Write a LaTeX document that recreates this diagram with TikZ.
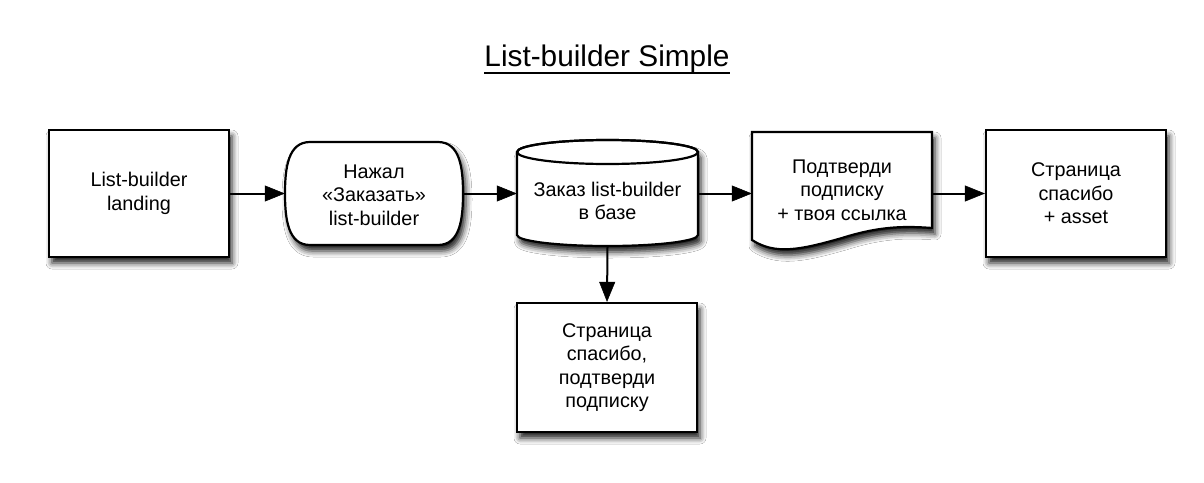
\documentclass[tikz,border=0pt]{standalone}
\usepackage{fontspec}
\setmainfont{Liberation Sans}
\usetikzlibrary{arrows.meta,shadows.blur}

\begin{document}
\begin{tikzpicture}[x=1pt,y=-1pt,
  softshadow/.style={blur shadow={shadow xshift=3pt, shadow yshift=-6pt,
      shadow blur radius=6pt, shadow opacity=90}},
  outline/.style={draw=black, line width=2.2pt, fill=white, softshadow},
  label/.style={align=center, inner sep=0pt, font=\fontsize{19.8}{23.5}\selectfont},
  box/.style={outline, label, minimum width=180pt, minimum height=127pt},
  frame/.style={inner sep=0pt, minimum width=#1},
  flow/.style={draw=black, line width=2pt,
      -{Triangle[length=20pt, width=16pt, fill=black, line width=0.5pt]}}
]
\useasboundingbox[fill=white] (0,0) rectangle (1204,482);

% heading
\node[inner sep=0pt, anchor=base, font=\fontsize{29.8}{34}\selectfont] (title) at (607,66) {List-builder Simple};
\draw[line width=2pt] ([yshift=-6.5pt]title.base west) -- ([yshift=-6.5pt]title.base east);

% landing page
\node[box] (landing) at (139,193.5) {List-builder\\landing};

% terminal: order button
\draw[outline] (310,142) -- (438,142)
  .. controls (460,142) and (463,168) .. (463,193.5)
  .. controls (463,219) and (460,245) .. (438,245) -- (310,245)
  .. controls (288,245) and (285,219) .. (285,193.5)
  .. controls (285,168) and (288,142) .. (310,142) -- cycle;
\node[frame=178pt, minimum height=103pt] (click) at (374,193.5) {};
\node[label] (clicktext) at ([yshift=-1.5pt]click.center) {Нажал\\«Заказать»\\list-builder};

% database cylinder
\draw[outline] (517,152) -- (517,235)
  arc[start angle=180, end angle=0, x radius=90.5, y radius=11]
  -- (698,152)
  arc[start angle=0, end angle=-180, x radius=90.5, y radius=12] -- cycle;
\draw[line width=2.2pt] (607.5,152) ellipse [x radius=90.5, y radius=12];
\node[frame=181pt, minimum height=106pt] (db) at (607.5,193.5) {};
\node[label] (dbtext) at ([yshift=-7.5pt]db.center) {Заказ list-builder\\в базе};

% document: confirmation letter
\draw[outline] (752,132) -- (932,132) -- (932,228)
  .. controls (905,226) and (880,226) .. (842,238)
  .. controls (800,250) and (775,255) .. (752,240) -- cycle;
\node[frame=180pt, minimum height=123pt] (mail) at (842,193.5) {};
\node[label] (mailtext) at ([yshift=3.5pt]mail.center) {Подтверди\\подписку\\+ твоя ссылка};

% thank-you page with asset
\node[box] (asset) at (1076,193.5) {Страница\\спасибо\\+ asset};

% thank-you page, confirm subscription
\node[box, minimum height=129pt] (thanks) at (607,367.5) {Страница\\спасибо,\\подтверди\\подписку};

% connectors
\draw[flow] (landing.east) -- (click.west);
\draw[flow] (click.east) -- (db.west);
\draw[flow] (db.east) -- (mail.west);
\draw[flow] (mail.east) -- (asset.west);
\draw[flow] (db.south) -- (thanks.north);
\end{tikzpicture}
\end{document}
